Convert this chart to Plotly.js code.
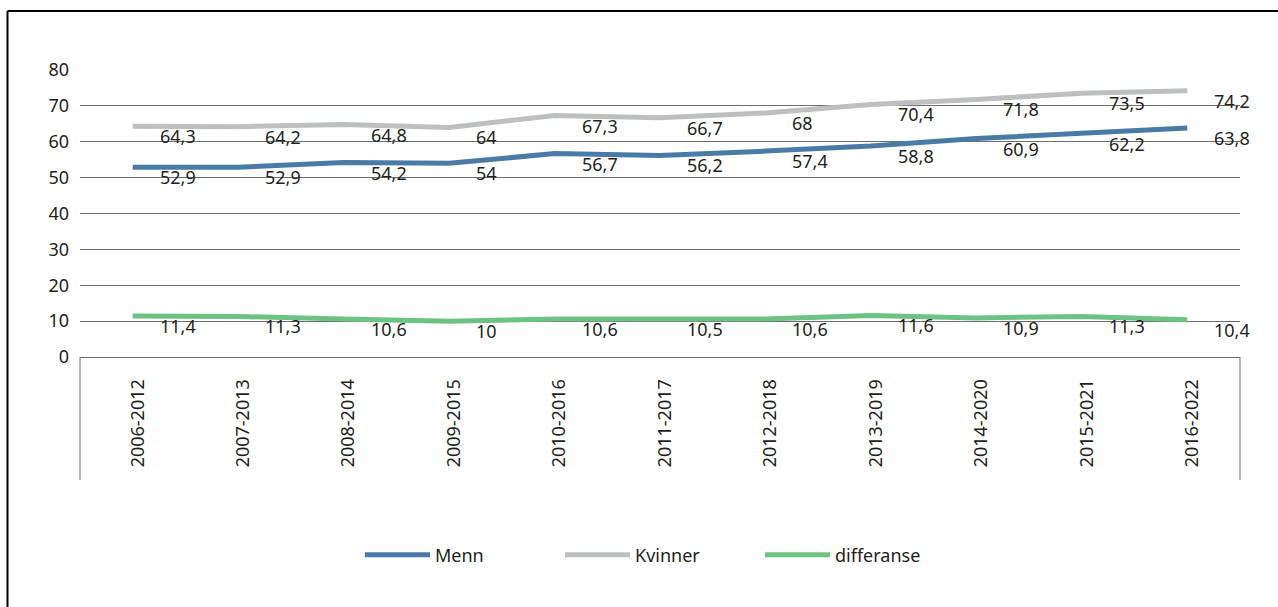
<!DOCTYPE html>
<html>
<head>
<meta charset="utf-8">
<script src="https://cdn.plot.ly/plotly-3.0.1.min.js"></script>
<style>
html,body{margin:0;padding:0;background:#fff;}
#chart{width:1278px;height:607px;}
</style>
</head>
<body>
<div id="chart"></div>
<script>
const categories = ["2006-2012","2007-2013","2008-2014","2009-2015","2010-2016","2011-2017","2012-2018","2013-2019","2014-2020","2015-2021","2016-2022"];
const menn = [52.9,52.9,54.2,54,56.7,56.2,57.4,58.8,60.9,62.2,63.8];
const kvinner = [64.3,64.2,64.8,64,67.3,66.7,68,70.4,71.8,73.5,74.2];
const differanse = [11.4,11.3,10.6,10,10.6,10.5,10.6,11.6,10.9,11.3,10.4];
const seriesNames = ["Menn","Kvinner","differanse"];
const yTicks = [0,10,20,30,40,50,60,70,80];

const colors = ["#4a7ba7","#bdbfc1","#6dc384"];
const FONT = "Noto Sans, Open Sans, sans-serif";
const TXT = "#231f20";
const seriesData = [menn, kvinner, differanse];

const traces = seriesData.map((vals, i) => ({
  type: "scatter",
  mode: "lines",
  name: seriesNames[i],
  x: categories,
  y: vals,
  line: {color: colors[i], width: 5},
  hoverinfo: "skip"
}));

const fmt = v => String(v).replace(".", ",");
const annotations = [];
seriesData.forEach((vals) => {
  vals.forEach((v, j) => {
    annotations.push({
      x: categories[j], y: v, xref: "x", yref: "y",
      text: fmt(v), showarrow: false,
      xanchor: "left", yanchor: "middle",
      xshift: 25, yshift: -10,
      font: {family: FONT, size: 18, color: TXT}
    });
  });
});

const layout = {
  width: 1278, height: 607,
  paper_bgcolor: "#ffffff", plot_bgcolor: "#ffffff",
  margin: {l: 80, r: 38, t: 70, b: 250, pad: 0},
  font: {family: FONT, size: 18, color: TXT},
  showlegend: true,
  legend: {
    orientation: "h", x: 0.5, xanchor: "center", y: -0.69, yanchor: "middle",
    font: {family: FONT, size: 18, color: TXT},
    itemwidth: 65, entrywidth: 120, traceorder: "normal"
  },
  xaxis: {
    type: "category",
    range: [-0.5, categories.length - 0.5],
    tickangle: -90,
    showgrid: false, zeroline: false,
    showline: true, linecolor: "#6e6e6e", linewidth: 1,
    ticks: "",
    ticklabelshift: 5, ticklabelstandoff: 14,
    tickfont: {family: FONT, size: 18, color: TXT},
    fixedrange: true
  },
  yaxis: {
    range: [0, 80],
    tickvals: yTicks,
    showgrid: true, gridcolor: "#6e6e6e", gridwidth: 1,
    zeroline: false, showline: false,
    ticks: "", ticklabelstandoff: 10,
    tickfont: {family: FONT, size: 18, color: TXT},
    fixedrange: true
  },
  annotations: annotations,
  shapes: [
    {type: "line", xref: "paper", yref: "paper", x0: 0, x1: 0, y0: 0, y1: -0.4286, line: {color: "#6e6e6e", width: 1}},
    {type: "line", xref: "paper", yref: "paper", x0: 1, x1: 1, y0: 0, y1: -0.4286, line: {color: "#6e6e6e", width: 1}},
    {type: "line", xref: "paper", yref: "paper", x0: -0.0625, x1: -0.0625, y0: 1.2056, y1: -0.9, line: {color: "#000000", width: 2}},
    {type: "line", xref: "paper", yref: "paper", x0: -0.0625, x1: 1.05, y0: 1.2056, y1: 1.2056, line: {color: "#000000", width: 2}}
  ]
};

Plotly.newPlot("chart", traces, layout, {staticPlot: true, displayModeBar: false});
</script>
</body>
</html>
